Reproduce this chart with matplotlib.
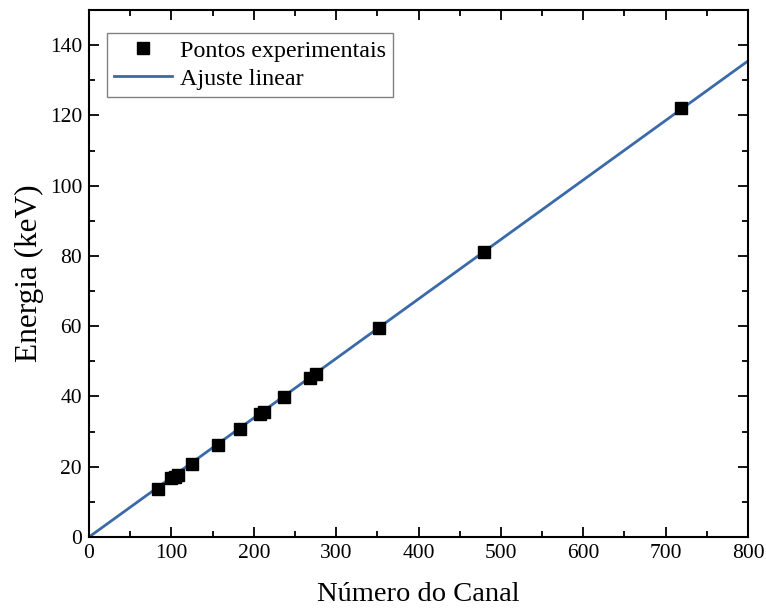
import matplotlib
matplotlib.use("Agg")
import matplotlib.pyplot as plt
from matplotlib.ticker import MultipleLocator

# Dados
canal = [84, 100, 104, 108, 125, 157, 183, 208, 212, 237, 268, 276, 352, 479, 719]
energia = [13.8, 16.7, 17.2, 17.6, 20.8, 26.3, 30.8, 35.1, 35.7, 39.8, 45.3, 46.4, 59.4, 81.0, 122.0]

# Extremos da reta de ajuste
ajuste_x = [0, 800]
ajuste_y = [0.0, 135.5]

plt.rcParams['font.family'] = ['Liberation Serif', 'DejaVu Serif']

fig = plt.figure(figsize=(7.66, 6.14), dpi=100)
ax = fig.add_axes([0.1162, 0.1254, 0.8603, 0.8583])

ax.plot(ajuste_x, ajuste_y, color='#3a6aa8', lw=2, label='Ajuste linear', zorder=2)
ax.plot(canal, energia, 's', color='black', markersize=8, label='Pontos experimentais', zorder=3)

ax.set_xlim(0, 800)
ax.set_ylim(0, 150)
ax.xaxis.set_major_locator(MultipleLocator(100))
ax.xaxis.set_minor_locator(MultipleLocator(50))
ax.yaxis.set_major_locator(MultipleLocator(20))
ax.yaxis.set_minor_locator(MultipleLocator(10))
ax.tick_params(which='both', direction='in', top=True, right=True, width=1.3, labelsize=15.5)
ax.tick_params(which='major', length=7, pad=5)
ax.tick_params(which='minor', length=4)
for s in ax.spines.values():
    s.set_linewidth(1.5)

ax.set_xlabel('Número do Canal', fontsize=20.5, labelpad=14)
ax.set_ylabel('Energia (keV)', fontsize=22.5, labelpad=4)

handles, labels = ax.get_legend_handles_labels()
leg = ax.legend(handles[::-1], labels[::-1], loc='upper left', bbox_to_anchor=(0.027, 0.957),
                fontsize=17.3, handlelength=2.4, handletextpad=0.35, borderaxespad=0,
                fancybox=False, edgecolor='gray', framealpha=1, borderpad=0.3, labelspacing=0.25)
leg.get_frame().set_linewidth(1.0)

plt.savefig('out.png', dpi=100)
plt.close(fig)
